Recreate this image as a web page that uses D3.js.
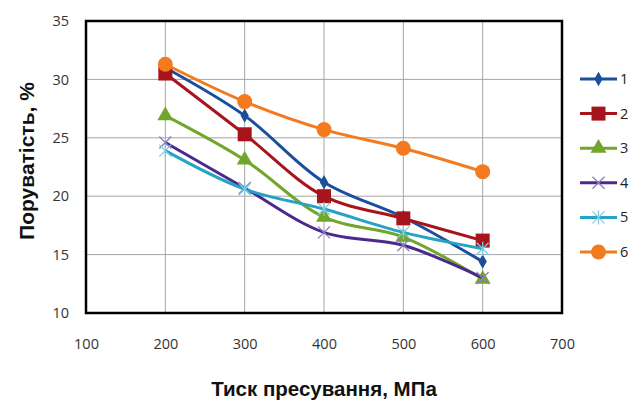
<!DOCTYPE html>
<html><head><meta charset="utf-8">
<script src="https://cdn.jsdelivr.net/npm/d3@7"></script>
<style>body{margin:0;background:#fff}svg{display:block}</style>
</head><body>
<script>
const pressures = [200, 300, 400, 500, 600];
const seriesNames = ["1", "2", "3", "4", "5", "6"];
const s1 = [31.0, 26.9, 21.2, 18.2, 14.4];
const s2 = [30.5, 25.3, 20.0, 18.1, 16.2];
const s3 = [26.9, 23.1, 18.2, 16.5, 12.9];
const s4 = [24.6, 20.7, 16.9, 15.8, 13.0];
const s5 = [23.9, 20.6, 18.9, 16.9, 15.5];
const s6 = [31.3, 28.1, 25.7, 24.1, 22.1];
const xTicks = [100, 200, 300, 400, 500, 600, 700];
const yTicks = [10, 15, 20, 25, 30, 35];
const colors = ["#1b4f9c", "#a8141c", "#72a52c", "#4a2a8c", "#25a2c4", "#f47a1f"];
const symbols = ["diamond", "square", "triangle", "x", "star", "circle"];
const allSeries = [s1, s2, s3, s4, s5, s6];

const W = 633, H = 401;
const svg = d3.select("body").append("svg").attr("width", W).attr("height", H);
const x = d3.scaleLinear().domain([100, 700]).range([86, 562]);
const y = d3.scaleLinear().domain([10, 35]).range([313, 21]);

// gridlines
svg.append("g").selectAll("line").data(xTicks.slice(1, -1)).join("line")
  .attr("x1", d => x(d)).attr("x2", d => x(d)).attr("y1", y(35)).attr("y2", y(10))
  .attr("stroke", "#a6a6a6").attr("stroke-width", 1);
svg.append("g").selectAll("line").data(yTicks.slice(1, -1)).join("line")
  .attr("y1", d => y(d)).attr("y2", d => y(d)).attr("x1", x(100)).attr("x2", x(700))
  .attr("stroke", "#a6a6a6").attr("stroke-width", 1);

// axes (labels)
const xAxis = svg.append("g").attr("transform", `translate(0,${y(10)})`)
  .call(d3.axisBottom(x).tickValues(xTicks).tickSize(0).tickPadding(26));
const yAxis = svg.append("g").attr("transform", `translate(${x(100)},0)`)
  .call(d3.axisLeft(y).tickValues(yTicks).tickSize(0).tickPadding(17));
[xAxis, yAxis].forEach(a => {
  a.select(".domain").remove();
  a.selectAll("text").attr("font-family", "Open Sans, Liberation Sans, sans-serif")
    .attr("font-size", 14.5).attr("fill", "#333");
});

// plot border
svg.append("rect").attr("x", x(100)).attr("y", y(35))
  .attr("width", x(700) - x(100)).attr("height", y(10) - y(35))
  .attr("fill", "none").attr("stroke", "#000").attr("stroke-width", 2.5);

const line = d3.line().x((d, i) => x(pressures[i])).y(d => y(d))
  .curve(d3.curveCatmullRom.alpha(0.5));

function marker(g, k, cx, cy) {
  const c = colors[k];
  const s = symbols[k];
  if (s === "diamond") {
    g.append("path").attr("d", d3.symbol(d3.symbolDiamond, 60)())
      .attr("transform", `translate(${cx},${cy})`).attr("fill", c);
  } else if (s === "square") {
    g.append("rect").attr("x", cx - 7).attr("y", cy - 7).attr("width", 14).attr("height", 14).attr("fill", c);
  } else if (s === "triangle") {
    g.append("path").attr("d", d3.symbol(d3.symbolTriangle, 110)())
      .attr("transform", `translate(${cx},${cy})`).attr("fill", c);
  } else if (s === "circle") {
    g.append("circle").attr("cx", cx).attr("cy", cy).attr("r", 7.5).attr("fill", c);
  } else if (s === "x") {
    g.append("path").attr("d", `M${cx-6},${cy-6}L${cx+6},${cy+6}M${cx-6},${cy+6}L${cx+6},${cy-6}`)
      .attr("stroke", "#8a7fc0").attr("stroke-width", 1.3).attr("fill", "none");
  } else if (s === "star") {
    g.append("path").attr("d", `M${cx-6},${cy-6}L${cx+6},${cy+6}M${cx-6},${cy+6}L${cx+6},${cy-6}M${cx},${cy-7}L${cx},${cy+7}`)
      .attr("stroke", "#7fc9e0").attr("stroke-width", 1.3).attr("fill", "none");
  }
}

allSeries.forEach((vals, k) => {
  const g = svg.append("g");
  g.append("path").datum(vals).attr("d", line).attr("fill", "none")
    .attr("stroke", colors[k]).attr("stroke-width", 3);
  vals.forEach((v, i) => marker(g, k, x(pressures[i]), y(v)));
});

// legend
const legend = svg.append("g");
seriesNames.forEach((n, k) => {
  const ly = 79 + k * 34.6;
  legend.append("line").attr("x1", 580).attr("x2", 617).attr("y1", ly).attr("y2", ly)
    .attr("stroke", colors[k]).attr("stroke-width", 3);
  marker(legend, k, 598.5, ly);
  legend.append("text").attr("x", 620).attr("y", ly).attr("dy", "0.35em")
    .attr("font-family", "Open Sans, Liberation Sans, sans-serif").attr("font-size", 14.5)
    .attr("fill", "#222").text(n);
});

// titles
svg.append("text").attr("x", 324).attr("y", 396).attr("text-anchor", "middle")
  .attr("font-family", "Liberation Sans, Arial, sans-serif").attr("font-weight", "bold")
  .attr("font-size", 20.5).attr("fill", "#111").text("Тиск пресування, МПа");
svg.append("text").attr("transform", "translate(34,161) rotate(-90)").attr("text-anchor", "middle")
  .attr("font-family", "Liberation Sans, Arial, sans-serif").attr("font-weight", "bold")
  .attr("font-size", 21).attr("fill", "#111").text("Поруватість, %");
</script>
</body></html>
